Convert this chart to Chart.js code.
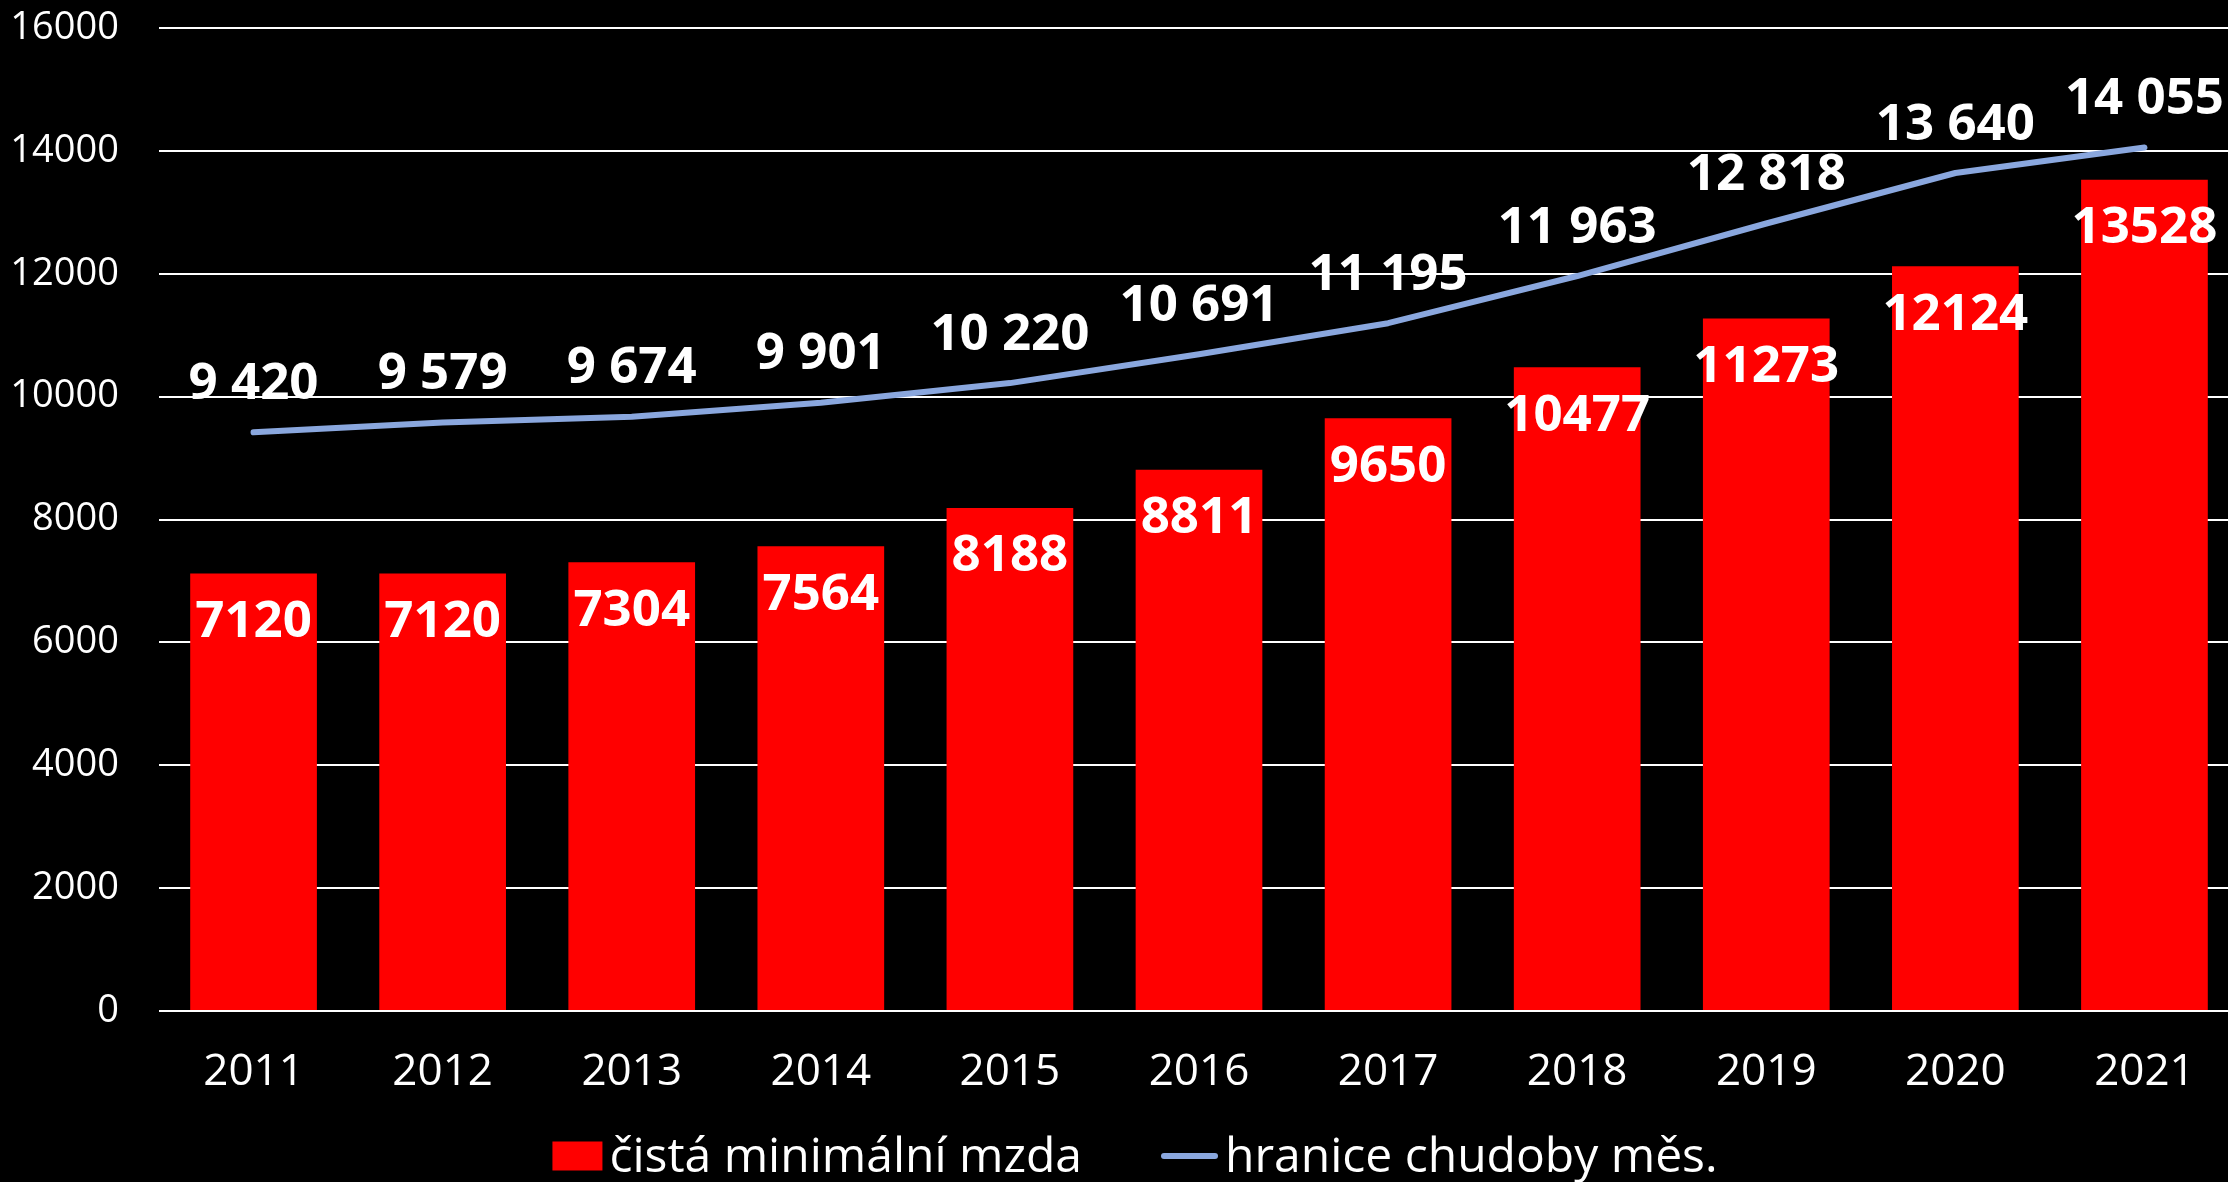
<!DOCTYPE html>
<html>
<head>
<meta charset="utf-8">
<script src="https://cdn.jsdelivr.net/npm/chart.js@4"></script>
<style>
  html, body { margin: 0; padding: 0; background: #000; overflow: hidden; }
  #wrap { width: 2240px; height: 1182px; }
</style>
</head>
<body>
<div id="wrap"><canvas id="c" width="2240" height="1182"></canvas></div>
<script>
const years = ['2011','2012','2013','2014','2015','2016','2017','2018','2019','2020','2021'];
const minWage = [7120, 7120, 7304, 7564, 8188, 8811, 9650, 10477, 11273, 12124, 13528];
const povertyLine = [9420, 9579, 9674, 9901, 10220, 10691, 11195, 11963, 12818, 13640, 14055];
const yTicks = [0, 2000, 4000, 6000, 8000, 10000, 12000, 14000, 16000];
const seriesNames = ['čistá minimální mzda', 'hranice chudoby měs.'];

const FONT = '"Open Sans", "Noto Sans", sans-serif';
const fmtSpace = v => String(v).replace(/\B(?=(\d{3})+(?!\d))/g, ' ');

const valueLabels = {
  id: 'valueLabels',
  afterDatasetsDraw(chart) {
    const ctx = chart.ctx;
    ctx.save();
    ctx.fillStyle = '#ffffff';
    ctx.font = 'bold 51px ' + FONT;
    ctx.textAlign = 'center';
    ctx.textBaseline = 'middle';
    chart.data.datasets.forEach((ds, i) => {
      const meta = chart.getDatasetMeta(i);
      meta.data.forEach((el, j) => {
        const v = ds.data[j];
        if (ds.type === 'bar') ctx.fillText(String(v), el.x, el.y + 49);
        else ctx.fillText(fmtSpace(v), el.x, el.y - 48);
      });
    });
    ctx.restore();
  }
};

const bottomLegend = {
  id: 'bottomLegend',
  afterDraw(chart) {
    const ctx = chart.ctx;
    const dsBar = chart.data.datasets[0];
    const dsLine = chart.data.datasets[1];
    ctx.save();
    ctx.font = '48px ' + FONT;
    const w1 = ctx.measureText(dsBar.label).width;
    const w2 = ctx.measureText(dsLine.label).width;
    const boxW = 50, boxH = 29, gap = 7, itemGap = 79, lineW = 57;
    const total = boxW + gap + w1 + itemGap + lineW + gap + w2;
    let x = chart.width / 2 + 15 - total / 2;
    const cy = chart.height - 26;
    ctx.fillStyle = dsBar.backgroundColor;
    ctx.fillRect(x, cy - boxH / 2, boxW, boxH);
    x += boxW + gap;
    ctx.fillStyle = '#ffffff';
    ctx.textAlign = 'left';
    ctx.textBaseline = 'alphabetic';
    ctx.fillText(dsBar.label, x, cy + 16);
    x += w1 + itemGap;
    ctx.strokeStyle = dsLine.borderColor;
    ctx.lineWidth = 6;
    ctx.lineCap = 'round';
    ctx.beginPath();
    ctx.moveTo(x + 3, cy);
    ctx.lineTo(x + lineW - 3, cy);
    ctx.stroke();
    x += lineW + gap;
    ctx.fillText(dsLine.label, x, cy + 16);
    ctx.restore();
  }
};

function build() {
  new Chart(document.getElementById('c'), {
    data: {
      labels: years,
      datasets: [
        {
          type: 'bar',
          label: seriesNames[0],
          data: minWage,
          backgroundColor: '#ff0000',
          borderWidth: 0,
          categoryPercentage: 1.0,
          barPercentage: 0.67
        },
        {
          type: 'line',
          label: seriesNames[1],
          data: povertyLine,
          borderColor: '#8aa7de',
          backgroundColor: '#8aa7de',
          borderWidth: 6,
          borderCapStyle: 'round',
          borderJoinStyle: 'round',
          pointRadius: 0,
          pointHoverRadius: 0,
          tension: 0
        }
      ]
    },
    options: {
      responsive: false,
      animation: false,
      devicePixelRatio: 1,
      layout: { padding: { top: 28, right: 1, left: 0, bottom: 66 } },
      plugins: {
        tooltip: { enabled: false },
        legend: { display: false }
      },
      scales: {
        x: {
          grid: { display: false },
          border: { display: false },
          ticks: { color: '#ffffff', font: { family: FONT, size: 44 }, padding: 27 },
          afterFit: s => { s.height = 105; }
        },
        y: {
          min: 0,
          max: 16000,
          afterBuildTicks: s => { s.ticks = yTicks.map(v => ({ value: v })); },
          grid: { color: '#ffffff', lineWidth: 2, drawTicks: false },
          border: { display: false },
          ticks: {
            color: '#ffffff',
            font: { family: FONT, size: 38 },
            padding: 40,
            callback: v => String(v)
          },
          afterFit: s => { s.width = 159; s.paddingTop = 24; s.paddingBottom = 24; }
        }
      }
    },
    plugins: [valueLabels, bottomLegend]
  });
}

if (document.fonts && document.fonts.load) {
  Promise.all([
    document.fonts.load('48px "Open Sans"'),
    document.fonts.load('bold 51px "Open Sans"')
  ]).then(build, build);
} else { build(); }
</script>
</body>
</html>
